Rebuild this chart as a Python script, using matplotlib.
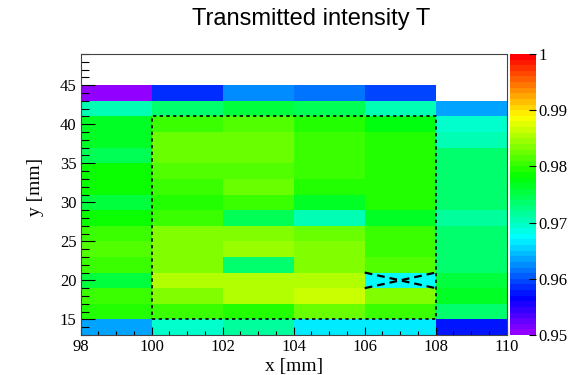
import colorsys
import numpy as np
import matplotlib
matplotlib.use("Agg")
import matplotlib.pyplot as plt
from matplotlib.colors import ListedColormap

# ---- data ----
x_edges = [98, 100, 102, 104, 106, 108, 110]
y_edges = [13, 15, 17, 19, 21, 23, 25, 27, 29, 31, 33, 35, 37, 39, 41, 43, 45]
# rows from y=13 (bottom) to y=43 (top); columns x = 98..108
T = [
    [0.9638, 0.9695, 0.9716, 0.9666, 0.9663, 0.9572],
    [0.9795, 0.9809, 0.9795, 0.9824, 0.9809, 0.9738],
    [0.9802, 0.9831, 0.9852, 0.9861, 0.9831, 0.9766],
    [0.9752, 0.9852, 0.9852, 0.9852, 0.9674, 0.9759],
    [0.9809, 0.9831, 0.9731, 0.9831, 0.9816, 0.9738],
    [0.9816, 0.9831, 0.9845, 0.9831, 0.9802, 0.9738],
    [0.9802, 0.9831, 0.9838, 0.9824, 0.9802, 0.9738],
    [0.9788, 0.9802, 0.9745, 0.9709, 0.9766, 0.9716],
    [0.9752, 0.9795, 0.9802, 0.9766, 0.9795, 0.9738],
    [0.9781, 0.9802, 0.9824, 0.9795, 0.9795, 0.9738],
    [0.9788, 0.9816, 0.9816, 0.9802, 0.9795, 0.9738],
    [0.9745, 0.9824, 0.9824, 0.9802, 0.9795, 0.9731],
    [0.9766, 0.9824, 0.9824, 0.9809, 0.9795, 0.9709],
    [0.9766, 0.9802, 0.9816, 0.9795, 0.9774, 0.9695],
    [0.9702, 0.9738, 0.9759, 0.9745, 0.9702, 0.9634],
    [0.9505, 0.9581, 0.9624, 0.9613, 0.9595, np.nan],
]
x_ticks = [98, 100, 102, 104, 106, 108, 110]
y_ticks = [15, 20, 25, 30, 35, 40, 45]
cbar_ticks = [0.95, 0.96, 0.97, 0.98, 0.99, 1.0]
cbar_labels = ["0.95", "0.96", "0.97", "0.98", "0.99", "1"]
region_x = [100, 108, 108, 100, 100]
region_y = [15, 15, 41, 41, 15]
cross1_x, cross1_y = [106, 108], [21, 19]
cross2_x, cross2_y = [106, 108], [19, 21]

# ---- ROOT "pretty" palette (50 colours) ----
cols = []
for i in range(50):
    h = 280 - (i + 1) * 5.6
    cols.append(colorsys.hls_to_rgb(max(h, 0) / 360.0, 0.5, 1.0))
cmap = ListedColormap(cols)
cmap.set_bad((1, 1, 1, 0))

W, H = 581, 375
fig = plt.figure(figsize=(W / 100, H / 100), dpi=100)
serif = "Liberation Serif"

L, R, B, Tp = 80.7, 506.7, 335, 54
ax = fig.add_axes([L / W, 1 - B / H, (R - L) / W, (B - Tp) / H])
Z = np.ma.masked_invalid(np.array(T))
mesh = ax.pcolormesh(x_edges, y_edges, Z, cmap=cmap, vmin=0.95, vmax=1.0,
                     shading="flat", antialiased=False, edgecolors="none")
ax.set_xlim(98, 110)
ax.set_ylim(13, 49)

ax.plot(region_x, region_y, color="black", lw=1.2, ls=(0, (2, 2)))
ax.plot(cross1_x, cross1_y, color="black", lw=1.6, ls=(0, (3.5, 2.2)))
ax.plot(cross2_x, cross2_y, color="black", lw=1.6, ls=(0, (3.5, 2.2)))

ax.set_xticks(x_ticks)
ax.set_xticklabels([str(v) for v in x_ticks])
ax.set_yticks(y_ticks)
ax.set_yticklabels([str(v) for v in y_ticks])
ax.set_xticks(np.arange(98, 110.01, 0.5), minor=True)
ax.set_yticks(np.arange(13, 49.01, 1), minor=True)
ax.tick_params(axis="x", which="major", direction="in", length=6, width=0.8,
               pad=3, labelsize=12, top=False)
ax.tick_params(axis="x", which="minor", direction="in", length=3, width=0.8, top=False)
ax.tick_params(axis="y", which="major", direction="in", length=10, width=0.8,
               pad=3, labelsize=12, right=False)
ax.tick_params(axis="y", which="minor", direction="in", length=5.5, width=0.8, right=False)
for lab in ax.get_xticklabels() + ax.get_yticklabels():
    lab.set_fontfamily(serif)
for s in ax.spines.values():
    s.set_linewidth(0.8)
    s.set_color("#444444")

# colorbar
cax = fig.add_axes([510 / W, 1 - B / H, 25.7 / W, (B - Tp) / H])
cb = fig.colorbar(mesh, cax=cax)
cb.outline.set_visible(False)
cb.set_ticks(cbar_ticks)
cb.set_ticklabels(cbar_labels)
cax.tick_params(direction="in", length=5, width=0.8, pad=2, labelsize=12, colors="black")
cax.minorticks_off()
for lab in cax.get_yticklabels():
    lab.set_fontfamily(serif)

fig.text(311 / W, 1 - 18.5 / H, "Transmitted intensity T", ha="center", va="center",
         fontsize=17, family="Liberation Sans")
fig.text(293.7 / W, 1 - 366 / H, "x [mm]", ha="center", va="center",
         fontsize=14, family=serif)
fig.text(35 / W, 1 - 187 / H, "y [mm]", ha="center", va="center", rotation=90,
         fontsize=14, family=serif)

fig.savefig("out.png", dpi=100)
